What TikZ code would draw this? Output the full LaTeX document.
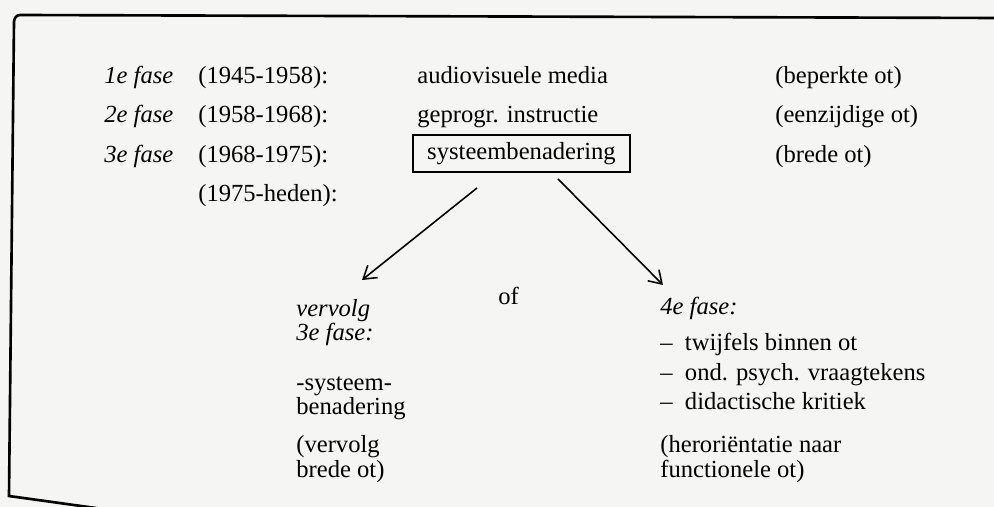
\documentclass[tikz,border=0pt]{standalone}
\usepackage{fontspec}
\setmainfont{Liberation Serif}
\usetikzlibrary{arrows.meta}
\definecolor{papier}{RGB}{245,245,243}
\begin{document}
\begin{tikzpicture}[x=0.02cm,y=-0.02cm,
  every node/.style={anchor=base west,inner sep=0pt,font=\fontsize{14}{16}\selectfont},
  fase/.style={font=\fontsize{14}{16}\selectfont\itshape},
  kader/.style={draw,line width=1.1pt,anchor=center,minimum width=4.34cm,minimum height=0.74cm},
  pijl/.style={-{Straight Barb[length=7pt,width=9pt]},line width=0.9pt}]
  % papier en kader
  \fill[papier] (0,0) rectangle (994,507);
  \useasboundingbox (0,0) rectangle (994,507);
  \clip (0,0) rectangle (994,507);
  \draw[line width=1.5pt] (1000,18) -- (20,15) to[out=180,in=90] (14,22) -- (9,496) -- (110,510);

  % Fasen
  \node[fase] (f1) at (104,83) {1e fase};
  \node[fase] (f2) at (104,122.5) {2e fase};
  \node[fase] (f3) at (104,162) {3e fase};

  % Perioden
  \node (d1) at (198,83) {(1945-1958):};
  \node (d2) at (198,122.5) {(1958-1968):};
  \node (d3) at (198,162) {(1968-1975):};
  \node (d4) at (198,201.5) {(1975-heden):};

  % Middelen
  \node (m1) at (417,83) {audiovisuele media};
  \node (m2) at (417,122.5) {geprogr. instructie};
  \node[kader] (m3) at (521.5,153.5) {systeembenadering};

  % Soort ot
  \node (o1) at (775,83) {(beperkte ot)};
  \node (o2) at (775,122.5) {(eenzijdige ot)};
  \node (o3) at (775,162) {(brede ot)};

  % Vervolg 3e fase
  \node[fase] (v1) at (296,316) {vervolg};
  \node[fase] (v2) at (296,340) {3e fase:};
  \node (v3) at (296,390) {-systeem-};
  \node (v4) at (296,414) {benadering};
  \node (v5) at (296,452) {(vervolg};
  \node (v6) at (296,477) {brede ot)};

  \node (of) at (498,304) {of};

  % 4e fase
  \node[fase] (n1) at (660,314) {4e fase:};
  \node (n2) at (660,350) {-- \ twijfels binnen ot};
  \node (n3) at (660,380) {-- \ ond. psych. vraagtekens};
  \node (n4) at (660,409) {-- \ didactische kritiek};
  \node (n5) at (660,452) {(heroriëntatie naar};
  \node (n6) at (660,477) {functionele ot)};

  % Pijlen
  \coordinate (pl) at (362,280);
  \coordinate (pr) at (663,285);
  \draw[pijl] ([xshift=-0.89cm,yshift=-0.3cm]m3.south) -- (pl);
  \draw[pijl] ([xshift=0.73cm,yshift=-0.12cm]m3.south) -- (pr);
\end{tikzpicture}
\end{document}
